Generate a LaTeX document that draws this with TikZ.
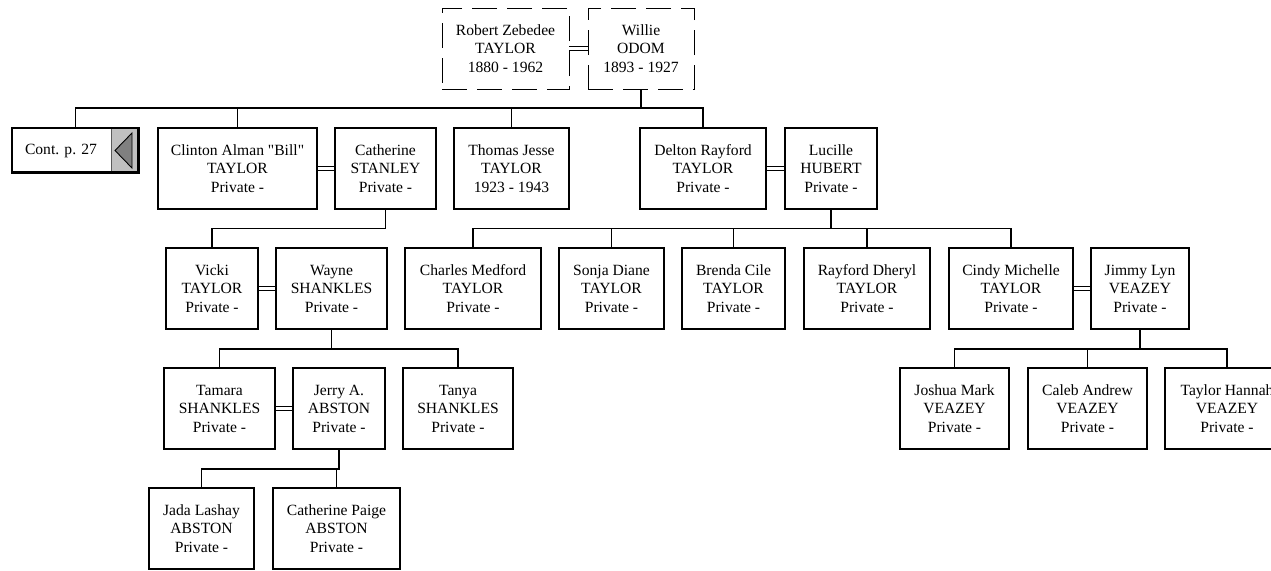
\documentclass[tikz,border=0pt]{standalone}
\usepackage{fontspec}
\setmainfont{Liberation Serif}[Ligatures=TeXOff]
\definecolor{btn}{RGB}{192,192,192}
\definecolor{tri}{RGB}{128,128,128}
\tikzset{
  pbox/.style={draw, line width=1.8pt, inner sep=0pt, minimum height=81pt, align=center,
               font=\fontsize{15.6}{18.5}\selectfont},
  dbox/.style={pbox, line width=0.9pt, dash pattern=on 25pt off 10pt},
  conn/.style={line width=1.8pt},
  wed/.style={line width=1pt},
}
\begin{document}
\begin{tikzpicture}[x=1pt,y=-1pt]
\path[use as bounding box] (0,0) rectangle (1271,570);
\clip (0,0) rectangle (1271,570);
\fill[white] (0,0) rectangle (1271,570);
% generation 0
\node[dbox, minimum width=127pt] (robert) at (505.5,48.5) {Robert Zebedee\\TAYLOR\\1880 - 1962};
\node[dbox, minimum width=106pt] (willie) at (641,48.5) {Willie\\ODOM\\1893 - 1927};
% generation 1
\node[pbox, minimum width=127pt, minimum height=45pt, path picture={
   \fill[btn] ([xshift=-28pt]path picture bounding box.north east) rectangle (path picture bounding box.south east);
   \draw[tri!70!black, line width=0.8pt] ([xshift=-28pt]path picture bounding box.north east) -- ([xshift=-28pt]path picture bounding box.south east);
   \draw[black, line width=2.4pt] ([xshift=-1pt]path picture bounding box.north east) -- ([xshift=-1pt]path picture bounding box.south east);
   \draw[black, line width=2.4pt] ([yshift=1pt]path picture bounding box.south west) -- ([yshift=1pt]path picture bounding box.south east);
   \filldraw[fill=tri, draw=black, line width=0.9pt]
     ([xshift=-24pt]path picture bounding box.east) -- ([shift={(-7pt,17.5pt)}]path picture bounding box.east)
     -- ([shift={(-7pt,-17.5pt)}]path picture bounding box.east) -- cycle;
   }] (cont) at (75.5,150.5) {};
\node[font=\fontsize{15.6}{18.5}\selectfont, inner sep=0pt] (contlbl) at (61,150.5) {Cont. p. 27};
\node[pbox, minimum width=159pt] (clinton) at (237.5,168.5) {Clinton Alman "Bill"\\TAYLOR\\Private -};
\node[pbox, minimum width=101pt] (catherine) at (385.5,168.5) {Catherine\\STANLEY\\Private -};
\node[pbox, minimum width=115pt] (thomas) at (511.5,168.5) {Thomas Jesse\\TAYLOR\\1923 - 1943};
\node[pbox, minimum width=126pt] (delton) at (703,168.5) {Delton Rayford\\TAYLOR\\Private -};
\node[pbox, minimum width=92pt] (lucille) at (831,168.5) {Lucille\\HUBERT\\Private -};
% generation 2
\node[pbox, minimum width=92pt] (vicki) at (212,288.5) {Vicki\\TAYLOR\\Private -};
\node[pbox, minimum width=111pt] (wayne) at (331.5,288.5) {Wayne\\SHANKLES\\Private -};
\node[pbox, minimum width=136pt] (charles) at (473,288.5) {Charles Medford\\TAYLOR\\Private -};
\node[pbox, minimum width=105pt] (sonja) at (611.5,288.5) {Sonja Diane\\TAYLOR\\Private -};
\node[pbox, minimum width=103pt] (brenda) at (733.5,288.5) {Brenda Cile\\TAYLOR\\Private -};
\node[pbox, minimum width=126pt] (rayford) at (867,288.5) {Rayford Dheryl\\TAYLOR\\Private -};
\node[pbox, minimum width=124pt] (cindy) at (1011,288.5) {Cindy Michelle\\TAYLOR\\Private -};
\node[pbox, minimum width=98pt] (jimmy) at (1140,288.5) {Jimmy Lyn\\VEAZEY\\Private -};
% generation 3
\node[pbox, minimum width=111pt] (tamara) at (219.5,408.5) {Tamara\\SHANKLES\\Private -};
\node[pbox, minimum width=92pt] (jerry) at (339,408.5) {Jerry A.\\ABSTON\\Private -};
\node[pbox, minimum width=110pt] (tanya) at (458,408.5) {Tanya\\SHANKLES\\Private -};
\node[pbox, minimum width=109pt] (joshua) at (954.5,408.5) {Joshua Mark\\VEAZEY\\Private -};
\node[pbox, minimum width=119pt] (caleb) at (1087.5,408.5) {Caleb Andrew\\VEAZEY\\Private -};
\node[pbox, minimum width=124pt] (taylorh) at (1227,408.5) {Taylor Hannah\\VEAZEY\\Private -};
% generation 4
\node[pbox, minimum width=105pt] (jada) at (201.5,528.5) {Jada Lashay\\ABSTON\\Private -};
\node[pbox, minimum width=127pt] (catp) at (336.5,528.5) {Catherine Paige\\ABSTON\\Private -};
% bus levels
\coordinate (b1) at (0,108);
\coordinate (b2) at (0,228.5);
\coordinate (b3) at (0,349);
\coordinate (b4) at (0,469);
% marriages
\foreach \a/\b in {robert/willie, clinton/catherine, delton/lucille, vicki/wayne, cindy/jimmy, tamara/jerry}{
  \draw[wed] ([yshift=2pt]\a.east) -- ([yshift=2pt]\b.west);
  \draw[wed] ([yshift=-2pt]\a.east) -- ([yshift=-2pt]\b.west);
}
% gen 0 -> 1
\draw[conn] (willie.south) -- (willie.south |- b1);
\draw[conn] (cont.north) |- (delton.north |- b1) -- (delton.north);
\draw[conn] (clinton.north) -- (clinton.north |- b1);
\draw[conn] (thomas.north) -- (thomas.north |- b1);
% gen 1 -> 2
\draw[conn] (catherine.south) |- (vicki.north |- b2) -- (vicki.north);
\draw[conn] (lucille.south) -- (lucille.south |- b2);
\draw[conn] (charles.north) |- (cindy.north |- b2) -- (cindy.north);
\foreach \c in {sonja, brenda, rayford}{
  \draw[conn] (\c.north) -- (\c.north |- b2);
}
% gen 2 -> 3
\draw[conn] (wayne.south) -- (wayne.south |- b3);
\draw[conn] (tamara.north) |- (tanya.north |- b3) -- (tanya.north);
\draw[conn] (jimmy.south) -- (jimmy.south |- b3);
\draw[conn] (joshua.north) |- (taylorh.north |- b3) -- (taylorh.north);
\draw[conn] (caleb.north) -- (caleb.north |- b3);
% gen 3 -> 4
\draw[conn] (jerry.south) |- (jada.north |- b4) -- (jada.north);
\draw[conn] (catp.north) -- (catp.north |- b4);
\end{tikzpicture}
\end{document}
